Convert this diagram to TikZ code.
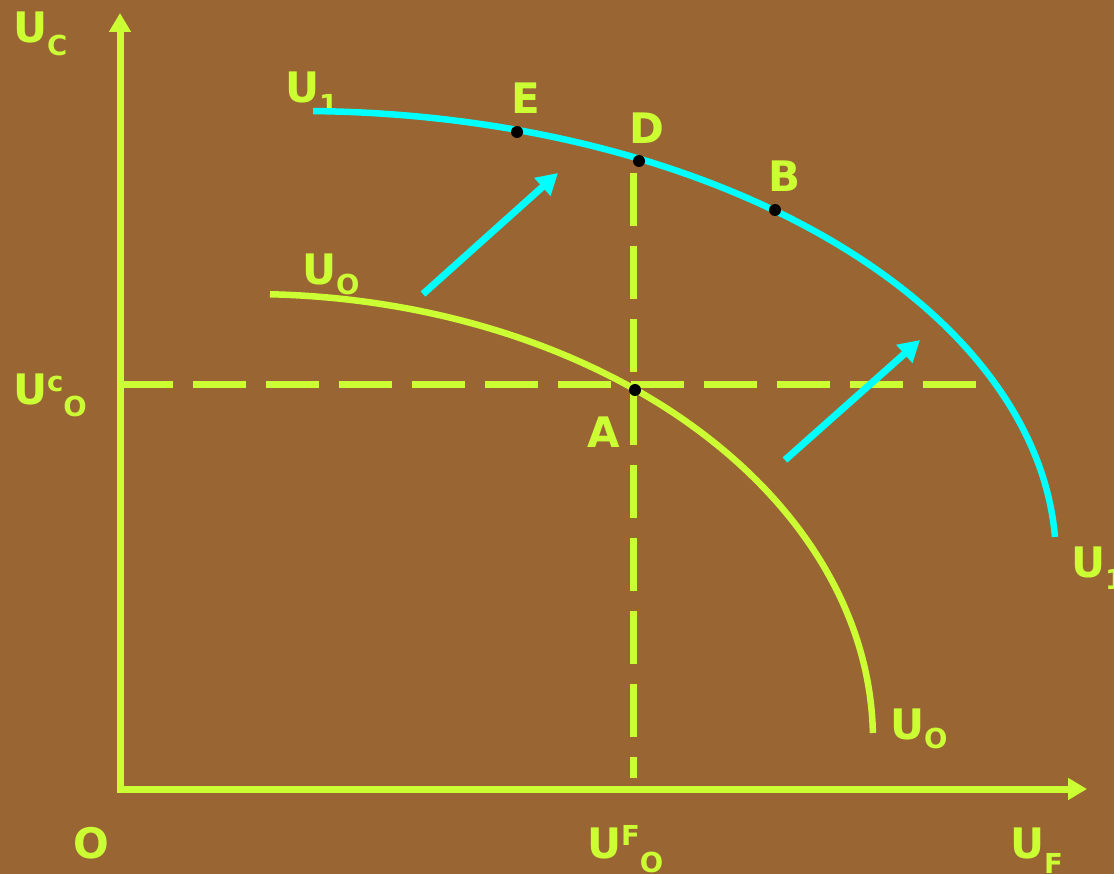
\documentclass[tikz,border=0pt]{standalone}
\usepackage{fontspec}
\setmainfont{DejaVu Sans}
\usetikzlibrary{arrows.meta}
\definecolor{bg}{HTML}{996633}
\definecolor{lime}{HTML}{CCFF33}
\definecolor{aqua}{HTML}{00FFFF}
\newcommand\Lf{\fontsize{42}{46}\selectfont\bfseries}
\newcommand\Sf{\fontsize{27.5}{30}\selectfont\bfseries}
\newcommand\lowtxt[2]{\raisebox{-#1pt}{\Sf #2}}
\newcommand\hightxt[2]{\raisebox{#1pt}{\Sf #2}}
\begin{document}
\begin{tikzpicture}[x=1pt,y=-1pt,
  lbl/.style={text=lime, font=\Lf, inner sep=0pt, outer sep=0pt, anchor=base west},
  dot/.style={circle, fill=black, inner sep=0pt, minimum size=12pt},
  axisline/.style={draw=lime, line width=7pt, line join=miter,
     {Triangle[length=19pt,width=21pt]}-{Triangle[length=19pt,width=21pt]}},
  dashline/.style={draw=lime, line width=7pt, dash pattern=on 53pt off 20pt},
  movearrow/.style={draw=aqua, line width=7pt, -{Triangle[length=21pt,width=23pt]}},
  ucurve/.style={draw=lime, line width=6.5pt},
  ccurve/.style={draw=aqua, line width=6.5pt}]
\useasboundingbox (0,0) rectangle (1114,874);
\fill[bg] (0,0) rectangle (1114,874);
\clip (0,0) rectangle (1114,874);
% axes
\coordinate (O) at (120,789);
\coordinate (ytip) at (120,13);
\coordinate (xtip) at (1087,789);
\draw[axisline] (ytip) -- (O) -- (xtip);
% dashed guides
\coordinate (hstart) at (120,385);
\coordinate (hend) at (980,385);
\coordinate (vtop) at (633,173);
\coordinate (vbot) at (633,778);
\draw[dashline] (hstart) -- (hend);
\draw[dashline] (vtop) -- (vbot);
% labels
\node[lbl] (lUC) at (13,43) {U\lowtxt{13}{C}};
\node[lbl] (lUcO) at (13,405) {U\hightxt{13}{c}\lowtxt{12}{O}};
\node[lbl] (lUFO) at (587,858) {U\hightxt{13}{F}\lowtxt{14}{O}};
\node[lbl] (lO) at (73,858) {O};
\node[lbl] (lUF) at (1010,858) {U\lowtxt{15}{F}};
\node[lbl] (lU0b) at (890,739) {U\lowtxt{9}{O}};
\node[lbl] (lU0t) at (302,285) {U\lowtxt{10}{O}};
\node[lbl] (lU1t) at (285,103) {U\lowtxt{12}{1}};
\node[lbl] (lU1r) at (1071,577) {U\lowtxt{12}{1}};
\node[lbl] (lE) at (511,114) {E};
\node[lbl] (lD) at (629,144) {D};
\node[lbl] (lB) at (768,192) {B};
\node[lbl] (lA) at (587,447) {A};
% curves
\draw[ucurve] plot[domain=88.16:0.9, samples=90, smooth] ({250+623*cos(\x)},{740-446*sin(\x)});
\draw[ccurve] plot[domain=89.0:2.94, samples=90, smooth] ({300+756*cos(\x)},{560-449*sin(\x)});
% shift arrows
\coordinate (s1) at (423,294);
\coordinate (t1) at (558,173);
\coordinate (s2) at (785,460);
\coordinate (t2) at (920,340);
\draw[movearrow] (s1) -- (t1);
\draw[movearrow] (s2) -- (t2);
% points
\node[dot] (A) at (635,390) {};
\node[dot] (D) at (639,161) {};
\node[dot] (B) at (775,210) {};
\node[dot] (E) at (517,132) {};
\end{tikzpicture}
\end{document}
